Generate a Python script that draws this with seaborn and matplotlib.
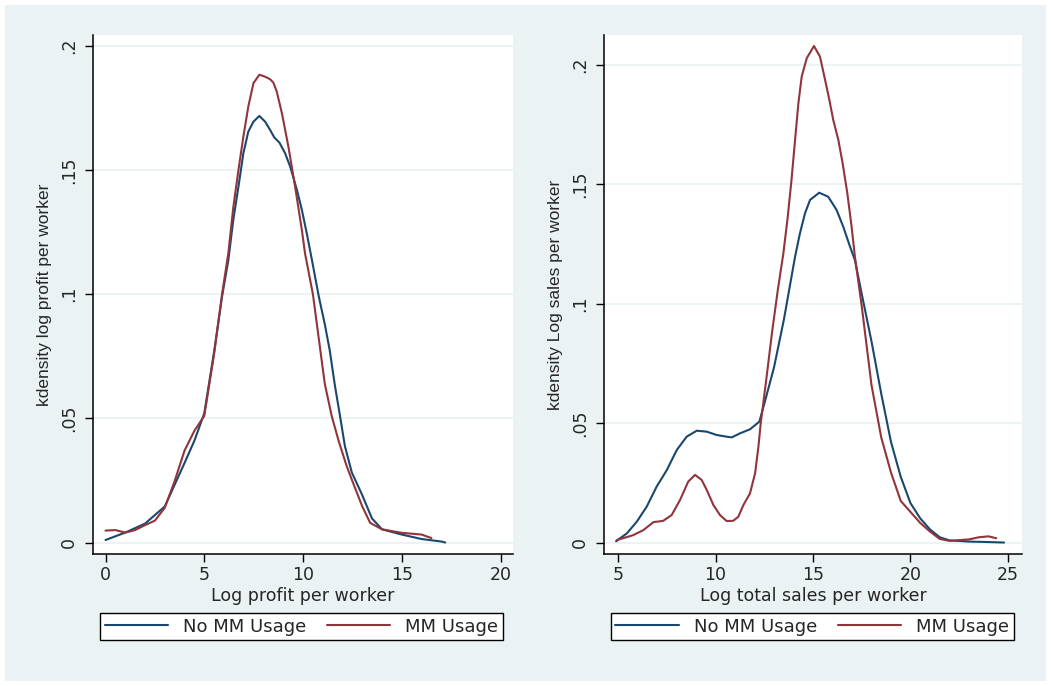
import seaborn as sns
import matplotlib.pyplot as plt
from matplotlib.patches import Rectangle

# left panel: kdensity of log profit per worker
profit_x_no = [0, 1, 2, 3, 4, 4.5, 5, 5.5, 5.9, 6.22, 6.47, 6.73, 6.98, 7.23, 7.49, 7.79,
               8.08, 8.33, 8.54, 8.81, 9.09, 9.35, 9.69, 9.94, 10.19, 10.45, 10.8, 11.1,
               11.35, 11.61, 11.87, 12.12, 12.47, 12.98, 13.49, 14, 15, 16, 17, 17.2]
profit_y_no = [0.001, 0.004, 0.0076, 0.0145, 0.032, 0.041, 0.052, 0.077, 0.099, 0.1138,
               0.130, 0.1433, 0.1568, 0.1655, 0.1695, 0.1718, 0.1695, 0.1662, 0.1632,
               0.161, 0.1568, 0.1514, 0.142, 0.134, 0.1245, 0.1138, 0.099, 0.088,
               0.0775, 0.0634, 0.0511, 0.0388, 0.0282, 0.0194, 0.0097, 0.0053, 0.0032,
               0.0014, 0.0004, 0.0]
profit_x_mm = [0, 0.5, 1, 1.5, 2, 2.5, 3, 3.5, 4, 4.5, 5, 5.5, 5.9, 6.22, 6.47, 6.73, 6.98,
               7.23, 7.49, 7.79, 8.08, 8.33, 8.5, 8.67, 8.93, 9.26, 9.6, 9.94, 10.1, 10.5,
               10.8, 11.1, 11.45, 11.8, 12.2, 12.5, 13.0, 13.4, 14, 15, 16, 16.5]
profit_y_mm = [0.0048, 0.005, 0.004, 0.005, 0.007, 0.0088, 0.014, 0.0247, 0.037, 0.045,
               0.051, 0.076, 0.1, 0.1166, 0.135, 0.150, 0.1635, 0.1756, 0.185, 0.1884,
               0.1876, 0.1866, 0.1852, 0.1816, 0.1729, 0.1594, 0.1433, 0.1259, 0.1165,
               0.100, 0.082, 0.064, 0.051, 0.041, 0.031, 0.0247, 0.0145, 0.0079, 0.0053,
               0.0039, 0.0032, 0.0018]

# right panel: kdensity of log sales per worker
sales_x_no = [4.9, 5.02, 5.45, 5.96, 6.47, 6.98, 7.5, 8.01, 8.52, 9.04, 9.55, 10.06, 10.57,
              10.83, 11.26, 11.77, 12.25, 12.5, 13, 13.5, 14.08, 14.33, 14.59, 14.85, 15.32,
              15.78, 16.21, 16.55, 16.9, 17.15, 17.5, 18, 18.5, 19, 19.5, 20, 20.5, 21,
              21.5, 22, 23, 24, 24.8]
sales_y_no = [0.0005, 0.0013, 0.0038, 0.0087, 0.015, 0.0234, 0.0303, 0.0387, 0.0443,
              0.0468, 0.0464, 0.045, 0.0443, 0.044, 0.0457, 0.0474, 0.0506, 0.058, 0.0733,
              0.093, 0.1196, 0.1294, 0.1378, 0.1434, 0.1464, 0.1447, 0.1392, 0.1322, 0.1238,
              0.1182, 0.104, 0.0842, 0.0623, 0.0421, 0.0275, 0.0165, 0.0101, 0.0055, 0.0022,
              0.0009, 0.0004, 0.0002, 0.0]
sales_x_mm = [4.93, 5.78, 6.3, 6.81, 7.32, 7.75, 8.18, 8.6, 8.95, 9.29, 9.55, 9.89, 10.23,
              10.57, 10.91, 11.17, 11.43, 11.77, 12.03, 12.2, 12.32, 12.6, 12.9, 13.2, 13.48,
              13.7, 13.9, 14.08, 14.25, 14.42, 14.68, 15.05, 15.36, 15.62, 15.84, 16.04,
              16.3, 16.52, 16.76, 16.98, 17.15, 17.5, 18, 18.5, 19, 19.5, 20, 20.5, 21,
              21.5, 22, 23, 23.5, 24, 24.4]
sales_y_mm = [0.001, 0.0031, 0.0052, 0.0085, 0.0091, 0.0115, 0.0178, 0.0255, 0.0283,
              0.0262, 0.022, 0.0157, 0.0115, 0.009, 0.0091, 0.0108, 0.0157, 0.0206, 0.029,
              0.0401, 0.050, 0.068, 0.088, 0.106, 0.121, 0.136, 0.152, 0.1685, 0.1838,
              0.195, 0.2027, 0.2078, 0.2033, 0.1936, 0.1852, 0.1768, 0.1685, 0.1587,
              0.1462, 0.1322, 0.1196, 0.0989, 0.0659, 0.044, 0.0293, 0.0174, 0.0128,
              0.0082, 0.0046, 0.0015, 0.0007, 0.0013, 0.0022, 0.0026, 0.0018]

yticks = [0, 0.05, 0.1, 0.15, 0.2]
ytick_labels = ["0", ".05", ".1", ".15", ".2"]
legend_labels = ["No MM Usage", "MM Usage"]

navy = "#1A476F"
maroon = "#90353B"
bg = "#EAF2F3"

sns.set_style("white")
plt.rcParams['font.family'] = ['DejaVu Sans']

fig = plt.figure(figsize=(10.51, 6.86), dpi=100)
fig.patch.set_facecolor("white")
fig.add_artist(Rectangle((5/1051, 5/686), 1041/1051, 676/686, transform=fig.transFigure,
                         facecolor=bg, edgecolor="none", zorder=-1))

ax1 = fig.add_axes([93/1051, 1-554/686, 420/1051, 519/686])
ax2 = fig.add_axes([604/1051, 1-554/686, 418/1051, 519/686])

panels = [
    (ax1, profit_x_no, profit_y_no, profit_x_mm, profit_y_mm,
     "Log profit per worker", "kdensity log profit per worker",
     [0, 5, 10, 15, 20], (-0.633, 20.63), (-0.00463, 0.2044)),
    (ax2, sales_x_no, sales_y_no, sales_x_mm, sales_y_mm,
     "Log total sales per worker", "kdensity Log sales per worker",
     [5, 10, 15, 20, 25], (4.28, 25.72), (-0.0048, 0.2124)),
]

for ax, xn, yn, xm, ym, xlab, ylab, xt, xl, yl in panels:
    ax.set_facecolor("white")
    for t in yticks:
        ax.axhline(t, color=bg, lw=1.3, zorder=0)
    sns.lineplot(x=xn, y=yn, ax=ax, color=navy, lw=1.5, label=legend_labels[0])
    sns.lineplot(x=xm, y=ym, ax=ax, color=maroon, lw=1.5, label=legend_labels[1])
    ax.set_xlim(*xl)
    ax.set_ylim(*yl)
    ax.set_xticks(xt)
    ax.set_xticklabels([str(v) for v in xt])
    ax.set_yticks(yticks)
    ax.set_yticklabels(ytick_labels, rotation=90, va="center")
    ax.tick_params(axis="both", direction="out", length=6, width=1, color="black",
                   labelsize=12.5, left=True, bottom=True)
    ax.tick_params(axis="y", pad=5)
    ax.tick_params(axis="x", pad=3)
    for s in ["top", "right"]:
        ax.spines[s].set_visible(False)
    for s in ["left", "bottom"]:
        ax.spines[s].set_color("black")
        ax.spines[s].set_linewidth(1.1)
    ax.set_xlabel(xlab, fontsize=12.5, labelpad=2)
    ax.set_ylabel(ylab, fontsize=12.5, family=["Liberation Sans"])
    ax.yaxis.set_label_coords(-0.098, 0.5)
    leg = ax.legend(loc="upper left", bbox_to_anchor=(0.0167, -0.1137), ncol=2,
                    borderaxespad=0, fontsize=13, handlelength=3.5, handletextpad=0.83,
                    columnspacing=1.16, borderpad=0.25, fancybox=False, framealpha=1,
                    edgecolor="black")
    leg.get_frame().set_linewidth(1.0)

fig.savefig("out.png", dpi=100, facecolor=fig.get_facecolor())
